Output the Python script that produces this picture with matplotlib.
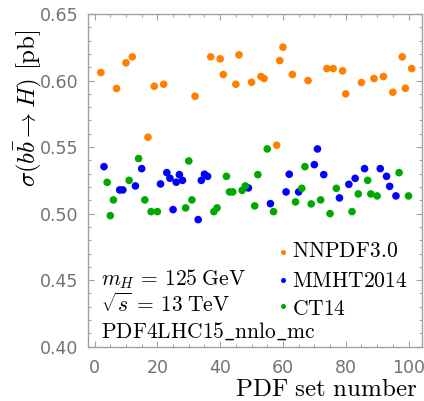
import matplotlib
matplotlib.use("Agg")
import matplotlib.pyplot as plt
from matplotlib.ticker import MultipleLocator

plt.rcParams["mathtext.fontset"] = "cm"
plt.rcParams["font.family"] = ["DejaVu Sans"]

# Replica cross sections, grouped by the PDF family each replica came from
nnpdf_x = [2, 7, 10, 12, 17, 19, 22, 32, 37, 40, 41, 45, 46, 50, 53, 54,
           58, 59, 60, 63, 68, 74, 76, 79, 80, 85, 89, 92, 95, 98, 99, 101]
nnpdf_y = [0.606, 0.594, 0.6133, 0.6178, 0.5574, 0.5957, 0.5972, 0.5882,
           0.6178, 0.6163, 0.6045, 0.5972, 0.6193, 0.5987, 0.603, 0.6015,
           0.5514, 0.615, 0.6251, 0.6045, 0.600, 0.609, 0.609, 0.6073,
           0.590, 0.5985, 0.6015, 0.603, 0.5912, 0.6178, 0.5942, 0.609]

mmht_x = [3, 8, 9, 13, 15, 21, 23, 24, 25, 26, 27, 28, 33, 34, 35, 36,
          49, 56, 61, 62, 65, 70, 71, 73, 78, 81, 83, 86, 91, 93, 94, 96]
mmht_y = [0.5353, 0.5178, 0.5178, 0.5208, 0.5338, 0.5223, 0.5308, 0.5266,
          0.503, 0.5236, 0.5293, 0.525, 0.4955, 0.525, 0.5296, 0.528,
          0.5193, 0.5075, 0.5163, 0.5296, 0.5163, 0.5368, 0.5486, 0.5293,
          0.5118, 0.522, 0.5265, 0.5338, 0.5338, 0.528, 0.5205, 0.5133]

ct14_x = [4, 5, 6, 11, 14, 16, 18, 20, 29, 30, 31, 38, 39, 42, 43, 44,
          47, 48, 51, 52, 55, 57, 64, 66, 67, 69, 72, 75, 77, 82, 84, 87,
          88, 90, 97, 100]
ct14_y = [0.5235, 0.4985, 0.5103, 0.525, 0.5414, 0.5103, 0.5015, 0.5015,
          0.5043, 0.5396, 0.5103, 0.5015, 0.5043, 0.528, 0.5163, 0.5163,
          0.5175, 0.5208, 0.5058, 0.5293, 0.5486, 0.5015, 0.5088, 0.519,
          0.5353, 0.5073, 0.5103, 0.500, 0.519, 0.5015, 0.5148, 0.525,
          0.5148, 0.5133, 0.5308, 0.5133]

series_names = ["NNPDF3.0", "MMHT2014", "CT14"]
series_colors = ["#ff8000", "#0000ff", "#00a800"]
series_data = [(nnpdf_x, nnpdf_y), (mmht_x, mmht_y), (ct14_x, ct14_y)]

frame_col = "#a0a0a0"
label_col = "#737373"

fig = plt.figure(figsize=(4.24, 4.01), dpi=100)
ax = fig.add_axes([88 / 424, 1 - 346.7 / 401, 333.7 / 424, 332.7 / 401])

for (xs, ys), col in zip(series_data, series_colors):
    ax.scatter(xs, ys, s=30, color=col, edgecolors="none", zorder=3)

ax.set_xlim(-2.1, 104.2)
ax.set_ylim(0.40, 0.65)

ax.xaxis.set_major_locator(MultipleLocator(20))
ax.xaxis.set_minor_locator(MultipleLocator(5))
ax.yaxis.set_major_locator(MultipleLocator(0.05))
ax.yaxis.set_minor_locator(MultipleLocator(0.01))
ax.yaxis.set_major_formatter(matplotlib.ticker.FormatStrFormatter("%.2f"))

for sp in ax.spines.values():
    sp.set_color(frame_col)
    sp.set_linewidth(1.0)

ax.tick_params(which="both", direction="in", top=True, right=True,
               color=frame_col, labelcolor=label_col, labelsize=12.5)
ax.tick_params(which="major", length=4, width=0.8)
ax.tick_params(which="minor", length=2.5, width=0.7)
ax.tick_params(axis="x", which="major", pad=9)
ax.tick_params(axis="y", which="major", pad=7)

# legend drawn as dots with labels inside the frame
leg_dot_y = [0.285, 0.200, 0.121]
leg_txt_y = [0.270, 0.180, 0.095]
for name, col, dy, ty in zip(series_names, series_colors, leg_dot_y, leg_txt_y):
    ax.plot([0.583], [dy], "o", ms=3.6, color=col, mec="none",
            transform=ax.transAxes, clip_on=False)
    ax.text(0.610, ty, r"$\mathrm{%s}$" % name, transform=ax.transAxes,
            fontsize=15.5, ha="left", va="baseline")

ax.text(0.039, 0.183, r"$m_H\,=\,125\;\mathrm{GeV}$", transform=ax.transAxes,
        fontsize=15.5, ha="left", va="baseline")
ax.text(0.039, 0.105, r"$\sqrt{s}\,=\,13\;\mathrm{TeV}$", transform=ax.transAxes,
        fontsize=15.5, ha="left", va="baseline")
ax.text(0.039, 0.027, r"$\mathrm{PDF4LHC15\_nnlo\_mc}$", transform=ax.transAxes,
        fontsize=15.5, ha="left", va="baseline")

fig.text(417 / 424, 1 - 396 / 401, r"$\mathrm{PDF\ set\ number}$",
         fontsize=18, ha="right", va="baseline")
fig.text(28 / 424, 1 - 108 / 401, r"$\sigma(b\bar{b}\rightarrow H)\ [\mathrm{pb}]$",
         fontsize=18, rotation=90, ha="center", va="center")

fig.savefig("out.png", dpi=100)
